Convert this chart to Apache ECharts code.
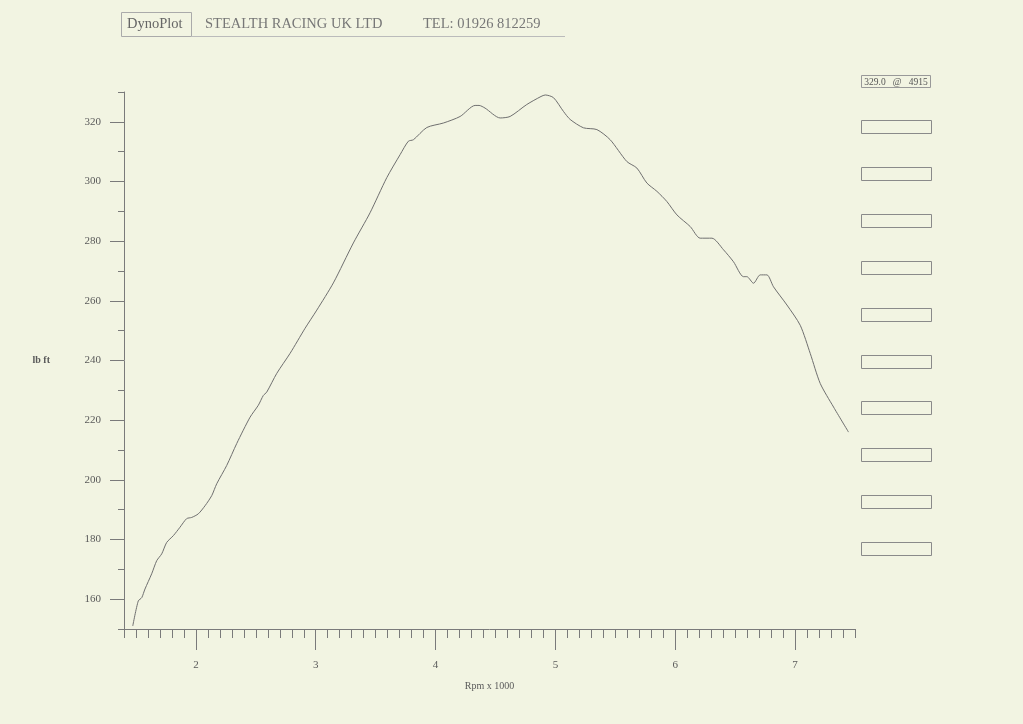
<!DOCTYPE html>
<html>
<head>
<meta charset="utf-8">
<script src="https://cdn.jsdelivr.net/npm/echarts@6/dist/echarts.min.js"></script>
<style>
html,body{margin:0;padding:0;background:#f2f4e2;}
#chart{width:1023px;height:724px;}
</style>
</head>
<body>
<div id="chart"></div>
<script>
// ---- data read from the dyno sheet ----
var rpm = [1.473,1.519,1.548,1.575,1.631,1.673,1.715,1.756,1.812,1.867,1.923,1.965,2.020,2.076,2.132,2.174,2.257,2.341,2.452,2.521,2.563,2.591,2.675,2.786,2.911,3.009,3.147,3.314,3.453,3.593,3.704,3.773,3.815,3.927,4.065,4.205,4.330,4.363,4.413,4.539,4.622,4.761,4.880,4.915,4.984,5.067,5.123,5.234,5.346,5.457,5.596,5.680,5.763,5.847,5.930,6.014,6.125,6.208,6.306,6.403,6.486,6.569,6.598,6.653,6.709,6.765,6.820,6.932,7.043,7.127,7.210,7.321,7.446];
var torque = [151.0,159.4,160.5,163.4,168.5,172.9,175.2,179.0,181.3,184.1,187.0,187.4,188.6,191.3,194.7,198.7,204.8,212.2,221.0,225.0,228.3,229.4,235.7,242.4,250.8,256.9,266.0,279.4,289.5,301.3,309.0,313.5,314.0,318.1,319.6,321.8,325.5,325.5,324.6,321.3,321.8,325.8,328.5,329.0,328.1,323.5,320.8,318.0,317.4,314.0,306.7,304.5,299.5,296.7,293.3,288.8,284.9,281.0,281.0,277.1,273.1,268.1,268.1,265.9,268.7,268.7,264.7,258.6,251.8,242.3,232.3,224.4,216.0];
var peakTorque = 329.0;
var peakRpm = 4915;
var headerTitle = 'DynoPlot';
var headerCompany = 'STEALTH RACING UK LTD';
var headerTel = 'TEL: 01926 812259';
var yAxisName = 'lb ft';
var xAxisName = 'Rpm x 1000';
var emptyBoxCount = 10;

var chart = echarts.init(document.getElementById('chart'));
var serif = '"Liberation Serif","DejaVu Serif",serif';
var axisCol = '#7a7a7a';
var textCol = '#5a5a5a';

var pts = rpm.map(function (r, i) { return [r, torque[i]]; });

var graphics = [
  {type:'rect', shape:{x:121.5,y:12.5,width:70,height:24}, style:{fill:'none',stroke:'#aaa',lineWidth:1}},
  {type:'line', shape:{x1:191.5,y1:36.5,x2:565,y2:36.5}, style:{stroke:'#bbb',lineWidth:1}},
  {type:'text', x:127, y:24, style:{text:headerTitle, font:'14.5px ' + serif, fill:'#666', verticalAlign:'middle'}},
  {type:'text', x:205, y:24, style:{text:headerCompany, font:'14.5px ' + serif, fill:'#777', verticalAlign:'middle'}},
  {type:'text', x:423, y:24, style:{text:headerTel, font:'14.5px ' + serif, fill:'#777', verticalAlign:'middle'}},
  {type:'rect', shape:{x:861.5,y:75.5,width:69,height:12}, style:{fill:'none',stroke:'#999',lineWidth:1}},
  {type:'text', x:896, y:82, style:{text:peakTorque.toFixed(1) + '   @   ' + peakRpm, font:'9.5px ' + serif, fill:'#555', align:'center', verticalAlign:'middle'}}
];
for (var b = 0; b < emptyBoxCount; b++) {
  graphics.push({type:'rect', shape:{x:861.5, y:Math.round(120 + b*46.9)+0.5, width:70, height:13}, style:{fill:'none', stroke:'#8a8a8a', lineWidth:1}});
}

var option = {
  backgroundColor:'#f2f4e2',
  animation:false,
  grid:[
    {left:124, right:168, top:92, bottom:95},
    {left:124, right:168, top:121.8, bottom:124.8},
    {left:195.9, right:227.9, top:92, bottom:95}
  ],
  xAxis:[
    {gridIndex:0, type:'value', min:1.4, max:7.5, interval:0.1,
     axisLine:{show:true, lineStyle:{color:axisCol, width:1}},
     axisTick:{show:true, length:9, lineStyle:{color:axisCol}},
     axisLabel:{show:false}, splitLine:{show:false},
     name:xAxisName, nameLocation:'middle', nameGap:52,
     nameTextStyle:{fontFamily:serif, fontSize:10, color:textCol}},
    {gridIndex:1, type:'value', min:1.4, max:7.5, show:false},
    {gridIndex:2, type:'value', min:2, max:7, interval:1,
     axisLine:{show:false},
     axisTick:{show:true, length:21, lineStyle:{color:axisCol}},
     axisLabel:{show:true, margin:31, fontFamily:serif, fontSize:11, color:textCol},
     splitLine:{show:false}}
  ],
  yAxis:[
    {gridIndex:0, type:'value', min:150, max:330, interval:10,
     axisLine:{show:true, lineStyle:{color:axisCol, width:1}},
     axisTick:{show:true, length:6, lineStyle:{color:axisCol}},
     axisLabel:{show:false}, splitLine:{show:false},
     name:yAxisName, nameLocation:'middle', nameRotate:0, nameGap:74,
     nameTextStyle:{fontFamily:serif, fontSize:10, fontWeight:'bold', color:textCol}},
    {gridIndex:1, type:'value', min:160, max:320, interval:20,
     axisLine:{show:false},
     axisTick:{show:true, length:14, lineStyle:{color:axisCol}},
     axisLabel:{show:true, margin:23, fontFamily:serif, fontSize:11, color:textCol},
     splitLine:{show:false}},
    {gridIndex:2, type:'value', min:150, max:330, show:false}
  ],
  graphic:graphics,
  series:[
    {type:'line', xAxisIndex:0, yAxisIndex:0, data:pts, showSymbol:false, smooth:0.25,
     lineStyle:{color:'#6f6f6f', width:1}}
  ]
};
chart.setOption(option);
</script>
</body>
</html>
